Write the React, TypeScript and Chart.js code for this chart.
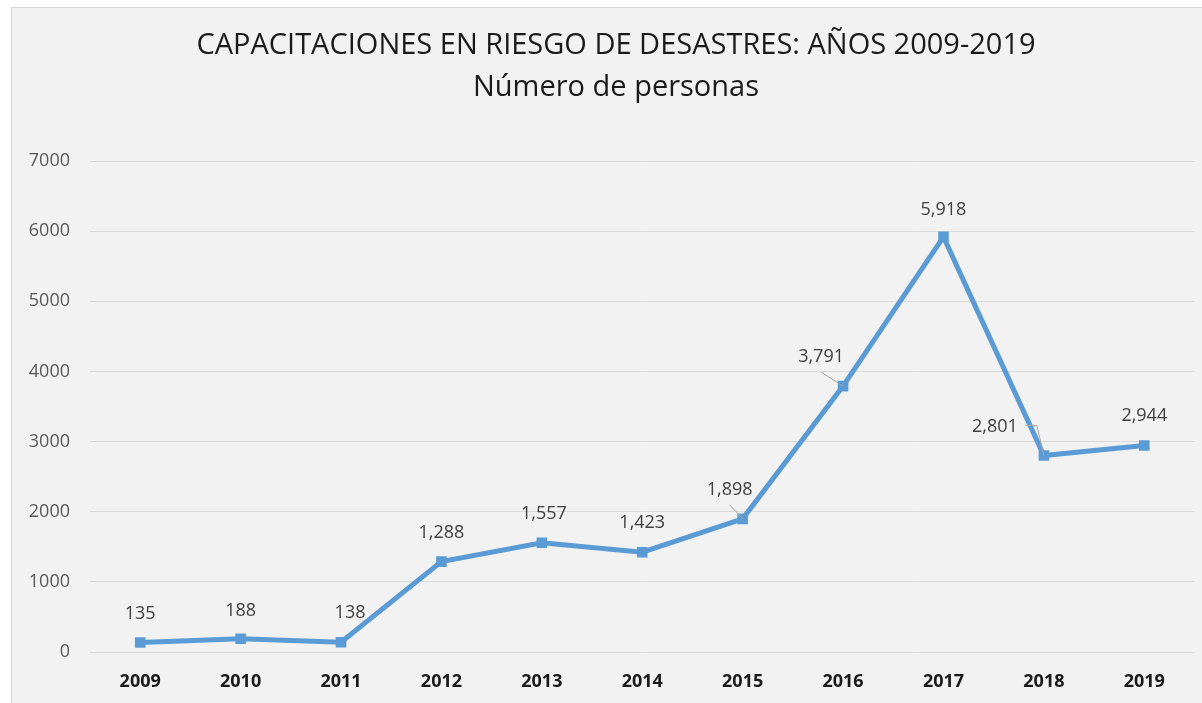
import React, { useEffect, useRef } from "react";
import { Chart, registerables } from "chart.js";

Chart.register(...registerables);

const years = ["2009", "2010", "2011", "2012", "2013", "2014", "2015", "2016", "2017", "2018", "2019"];
const personas = [135, 188, 138, 1288, 1557, 1423, 1898, 3791, 5918, 2801, 2944];
const titleLines = ["CAPACITACIONES EN RIESGO DE DESASTRES: AÑOS 2009-2019", "Número de personas"];
const yMin = 0;
const yMax = 7000;
const yStep = 1000;

// label placement (pixel offsets from each point) and optional leader lines
const labelOffsets: [number, number][] = [
  [0, -29], [0, -28], [9, -29], [0, -29], [2, -29], [0, -29],
  [-13, -29], [-22, -29], [0, -27], [-49, -29], [0, -30],
];
const leaders: ([number, number][] | null)[] = [
  null, null, null, null, null, null,
  [[-13, -14], [0, 0]],
  [[-22, -14], [0, 0]],
  null,
  [[-18, -30], [-7, -30], [0, 0]],
  null,
];

const fmt = (v: number) => v.toLocaleString("en-US");

export default function App() {
  const ref = useRef<HTMLCanvasElement | null>(null);

  useEffect(() => {
    if (!ref.current) return;
    const titlePlugin = {
      id: "customTitle",
      afterDraw(chart: any) {
        const ctx = chart.ctx;
        ctx.save();
        ctx.fillStyle = "#1a1a1a";
        ctx.textAlign = "center";
        ctx.textBaseline = "middle";
        ctx.font = "29px 'Open Sans'";
        ctx.fillText(titleLines[0], 616, 46);
        ctx.fillText(titleLines[1], 616, 88);
        ctx.restore();
      },
    };
    const labelPlugin = {
      id: "pointLabels",
      afterDatasetsDraw(chart: any) {
        const ctx = chart.ctx;
        const meta = chart.getDatasetMeta(0);
        ctx.save();
        meta.data.forEach((pt: any, i: number) => {
          const lead = leaders[i];
          if (lead) {
            ctx.strokeStyle = "#a6a6a6";
            ctx.lineWidth = 1;
            ctx.beginPath();
            lead.forEach(([dx, dy], j) => {
              if (j === 0) ctx.moveTo(pt.x + dx, pt.y + dy);
              else ctx.lineTo(pt.x + dx, pt.y + dy);
            });
            ctx.stroke();
          }
          const [ox, oy] = labelOffsets[i];
          ctx.fillStyle = "#404040";
          ctx.font = "18px 'Open Sans'";
          ctx.textAlign = "center";
          ctx.textBaseline = "middle";
          ctx.fillText(fmt(personas[i]), pt.x + ox, pt.y + oy);
        });
        ctx.restore();
      },
    };

    const chart = new Chart(ref.current, {
      type: "line",
      data: {
        labels: years,
        datasets: [
          {
            data: personas,
            borderColor: "#5b9bd5",
            backgroundColor: "#5b9bd5",
            borderWidth: 5,
            pointStyle: "rect",
            pointRadius: 7.5,
            pointBorderWidth: 0,
            pointBackgroundColor: "#5b9bd5",
            tension: 0,
          },
        ],
      },
      options: {
        responsive: false,
        animation: false,
        layout: { padding: { left: 0, right: 6, top: 161, bottom: 0 } },
        plugins: {
          legend: { display: false },
          title: { display: false },
          tooltip: { enabled: false },
        },
        scales: {
          x: {
            offset: true,
            grid: { display: false, drawTicks: false, offset: true },
            border: { display: false },
            ticks: {
              color: "#1a1a1a",
              font: { family: "'Open Sans'", size: 18, weight: "bold" },
              padding: 19,
              maxRotation: 0,
            },
            afterFit(scale: any) {
              scale.height = 51;
            },
          },
          y: {
            min: yMin,
            max: yMax,
            grid: { color: "#d9d9d9", lineWidth: 1, drawTicks: false },
            border: { display: false },
            ticks: {
              stepSize: yStep,
              color: "#595959",
              font: { family: "'Open Sans'", size: 18 },
              padding: 20,
              callback: (v: any) => String(v),
            },
            afterFit(scale: any) {
              scale.width = 90;
            },
          },
        },
      },
      plugins: [titlePlugin, labelPlugin],
    } as any);
    return () => chart.destroy();
  }, []);

  return (
    <div style={{ position: "fixed", left: 0, top: 0, width: 1202, height: 703, background: "#ffffff" }}>
      <div
        style={{
          position: "absolute",
          left: 11,
          top: 7,
          width: 1195,
          height: 700,
          background: "#f2f2f2",
          border: "1px solid #d9d9d9",
          boxSizing: "border-box",
        }}
      />
      <canvas ref={ref} width={1202} height={703} style={{ position: "absolute", left: 0, top: 0 }} />
    </div>
  );
}
